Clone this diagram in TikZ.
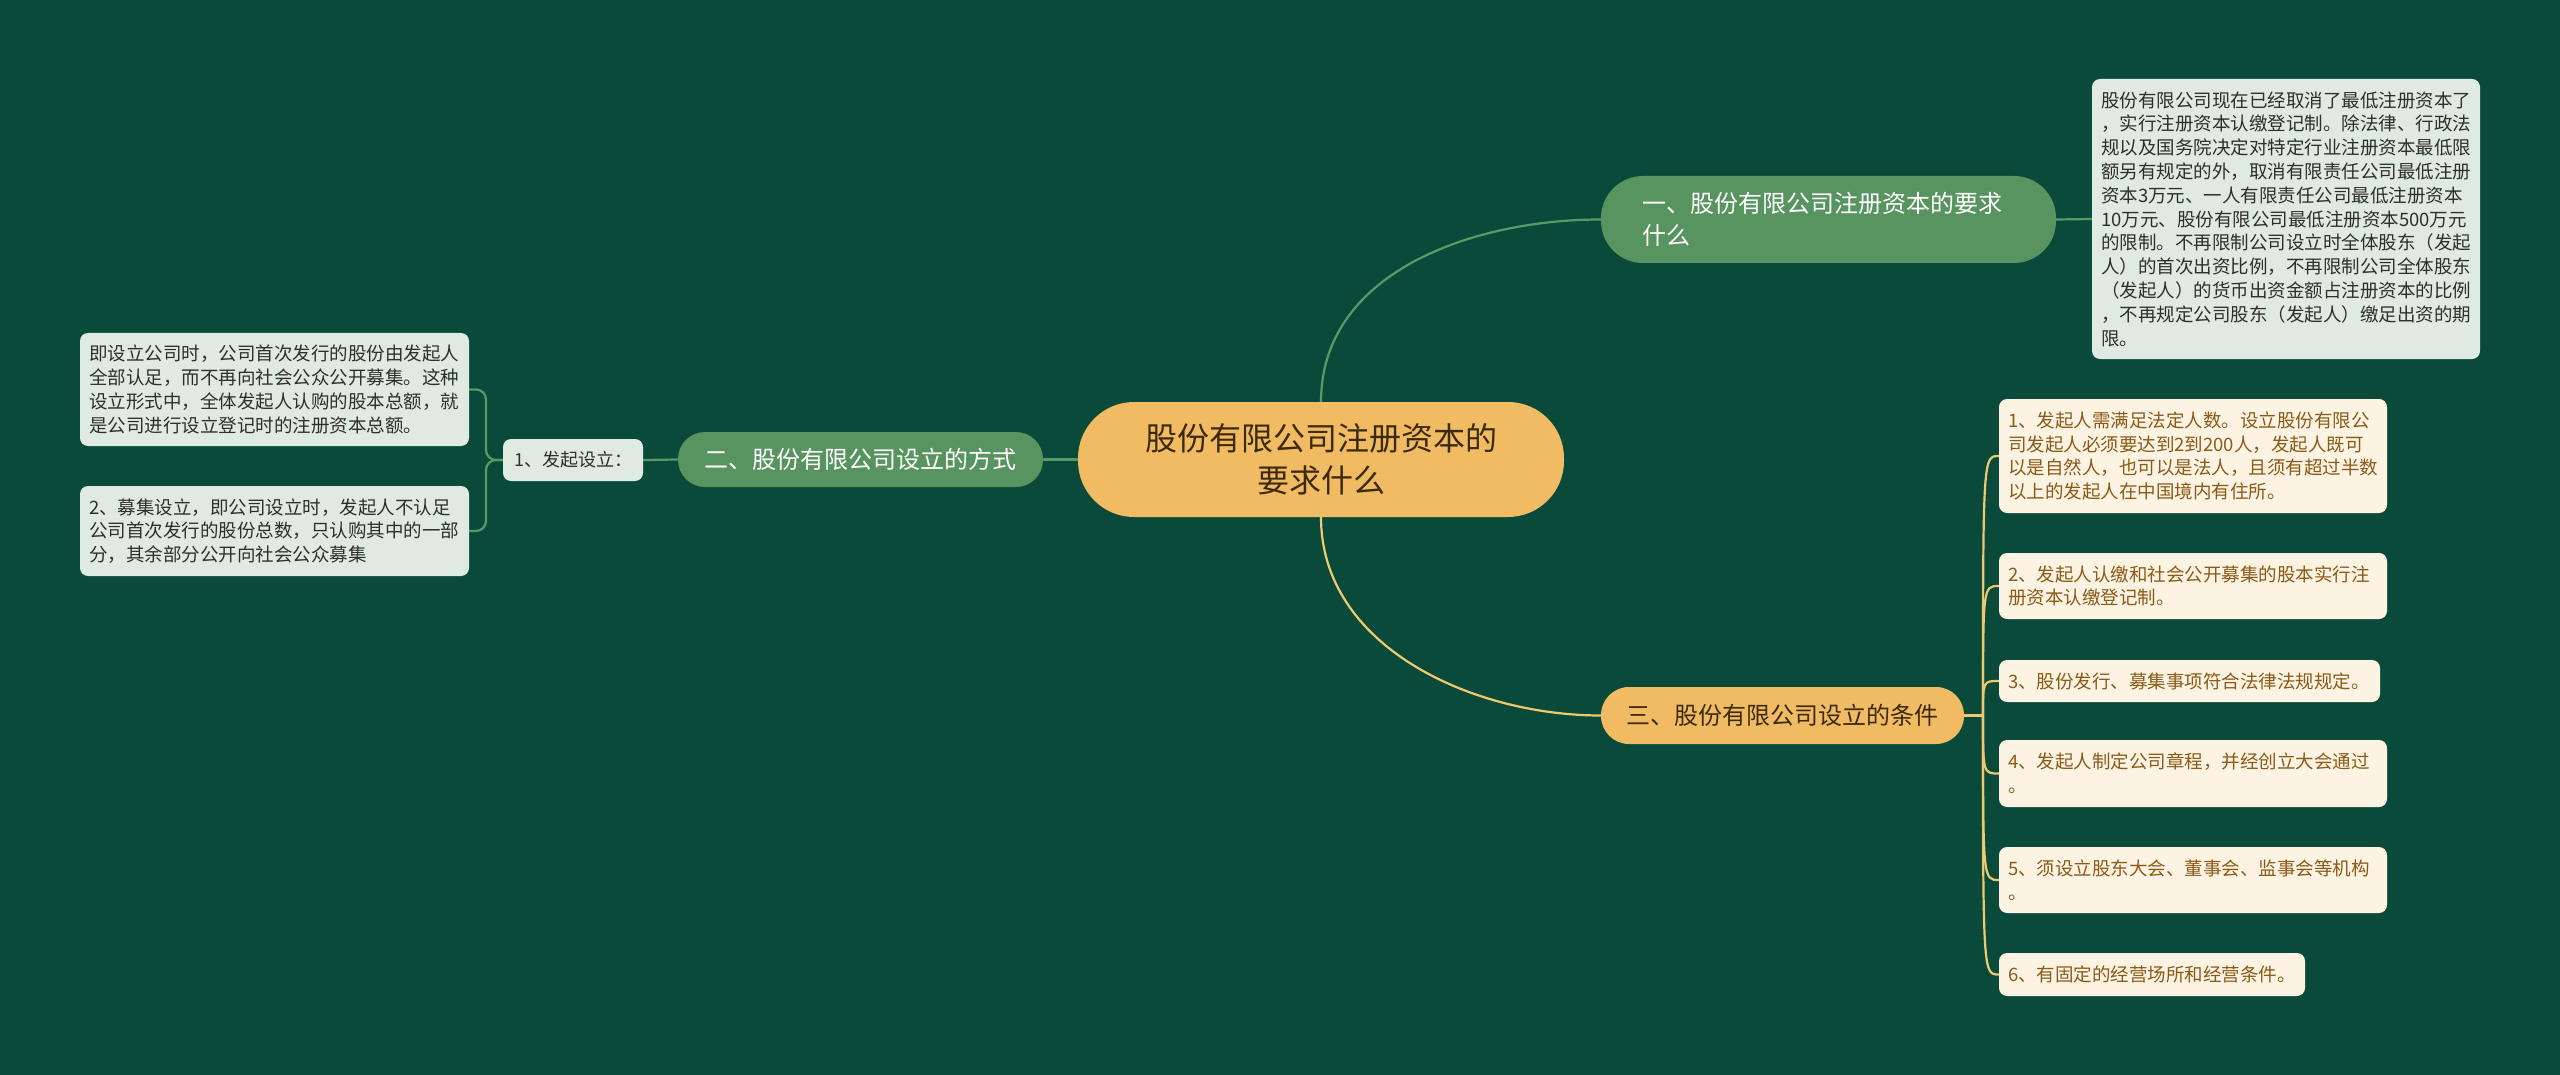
\documentclass[tikz,border=0pt]{standalone}
\usepackage{fontspec}
\setmainfont{Noto Sans CJK SC}
\usepackage[table]{xcolor}
\usepackage{tikz}
\usetikzlibrary{backgrounds,calc}

\definecolor{hgrund}{HTML}{0A4A3A}
\definecolor{gruen}{HTML}{589460}
\definecolor{gruenlinie}{HTML}{5A9A66}
\definecolor{orange}{HTML}{F0BB62}
\definecolor{gelblinie}{HTML}{F0C96E}
\definecolor{grau}{HTML}{DFEBE2}
\definecolor{creme}{HTML}{FDF3E2}
\definecolor{braun}{HTML}{8A5A18}
\definecolor{dunkel}{HTML}{3C2A0C}

\begin{document}
\begin{tikzpicture}[x=1pt,y=-1pt,
  wurzel/.style={fill=orange,text=dunkel,rounded corners=56pt,inner sep=0pt,
    minimum width=486pt,minimum height=115pt,align=center,
    font=\fontsize{32}{42}\selectfont},
  ast/.style={rounded corners=27pt,inner sep=0pt,minimum height=55pt,
    font=\fontsize{24}{32.5}\selectfont},
  kasten/.style={rounded corners=8pt,inner xsep=9pt,inner ysep=0pt,align=left,
    font=\fontsize{18.5}{23.8}\selectfont},
  graukasten/.style={kasten,fill=grau,text=black!82},
  cremekasten/.style={kasten,fill=creme,text=braun},
  gruenverb/.style={draw=gruenlinie,line width=2.2pt},
  gelbverb/.style={draw=gelblinie,line width=2.2pt}]
\useasboundingbox[fill=hgrund] (0,0) rectangle (2560,1075);

% Mitte
\node[wurzel] (root) at (1321,459.5) {股份有限公司注册资本的\\要求什么};

% Aeste
\node[ast,fill=gruen,text=white,rounded corners=42pt,minimum height=87pt,
  inner xsep=41pt,text width=373pt,align=left] (b1) at (1828.5,219.5)
  {一、股份有限公司注册资本的要求\\什么};
\node[ast,fill=gruen,text=white,minimum width=365pt] (b2) at (860.5,459.5)
  {二、股份有限公司设立的方式};
\node[ast,fill=orange,text=dunkel,minimum width=363pt,minimum height=57pt,
  rounded corners=28pt] (b3) at (1782.5,715.5) {三、股份有限公司设立的条件};

% links
\node[graukasten,minimum width=140pt,minimum height=42pt,inner xsep=0pt,
  font=\fontsize{18}{23}\selectfont] (s1) at (573,460) {1、发起设立：};
\node[graukasten,text width=371pt,minimum height=113pt] (la) at (274.5,389.5)
  {即设立公司时，公司首次发行的股份由发起人\\
   全部认足，而不再向社会公众公开募集。这种\\
   设立形式中，全体发起人认购的股本总额，就\\
   是公司进行设立登记时的注册资本总额。};
\node[graukasten,text width=371pt,minimum height=90pt] (lb) at (274.5,531)
  {2、募集设立，即公司设立时，发起人不认足\\
   公司首次发行的股份总数，只认购其中的一部\\
   分，其余部分公开向社会公众募集};

% rechts oben
\node[graukasten,text width=370pt,minimum height=280pt] (d1) at (2286,219)
  {股份有限公司现在已经取消了最低注册资本了\\
   ，实行注册资本认缴登记制。除法律、行政法\\
   规以及国务院决定对特定行业注册资本最低限\\
   额另有规定的外，取消有限责任公司最低注册\\
   资本3万元、一人有限责任公司最低注册资本\\
   10万元、股份有限公司最低注册资本500万元\\
   的限制。不再限制公司设立时全体股东（发起\\
   人）的首次出资比例，不再限制公司全体股东\\
   （发起人）的货币出资金额占注册资本的比例\\
   ，不再规定公司股东（发起人）缴足出资的期\\
   限。};

% rechts unten
\node[cremekasten,text width=370pt,minimum height=114pt] (r1) at (2193,456)
  {1、发起人需满足法定人数。设立股份有限公\\
   司发起人必须要达到2到200人，发起人既可\\
   以是自然人，也可以是法人，且须有超过半数\\
   以上的发起人在中国境内有住所。};
\node[cremekasten,text width=370pt,minimum height=66pt] (r2) at (2193,586)
  {2、发起人认缴和社会公开募集的股本实行注\\册资本认缴登记制。};
\node[cremekasten,text width=363pt,minimum height=42pt] (r3) at (2189.5,681)
  {3、股份发行、募集事项符合法律法规规定。};
\node[cremekasten,text width=370pt,minimum height=67pt] (r4) at (2193,773.5)
  {4、发起人制定公司章程，并经创立大会通过\\。};
\node[cremekasten,text width=370pt,minimum height=66pt] (r5) at (2193,880)
  {5、须设立股东大会、董事会、监事会等机构\\。};
\node[cremekasten,text width=288pt,minimum height=43pt] (r6) at (2152,974.5)
  {6、有固定的经营场所和经营条件。};

% Verbindungen
\coordinate (lj) at (486,460);
\coordinate (rj) at (1983,715.5);
\draw[gruenverb] (root.west) -- (b2.east);
\draw[gruenverb] (b2.west) -- (s1.east);
\draw[gruenverb,rounded corners=10pt] (s1.west) -- (lj) |- (la.east);
\draw[gruenverb,rounded corners=10pt] (s1.west) -- (lj) |- (lb.east);
\draw[gruenverb] (root.north) .. controls +(0,-129) and +(-129,0) .. (b1.west);
\draw[gruenverb] (b1.east) -- (d1.west);
\draw[gelbverb] (root.south) .. controls +(0,129) and +(-129,0) .. (b3.west);
\draw[gelbverb] (b3.east) -- (rj);
\foreach \n in {r1,r2,r3,r4,r5,r6}
  \draw[gelbverb] (rj) .. controls (rj |- \n.west) .. (\n.west);
\end{tikzpicture}
\end{document}
